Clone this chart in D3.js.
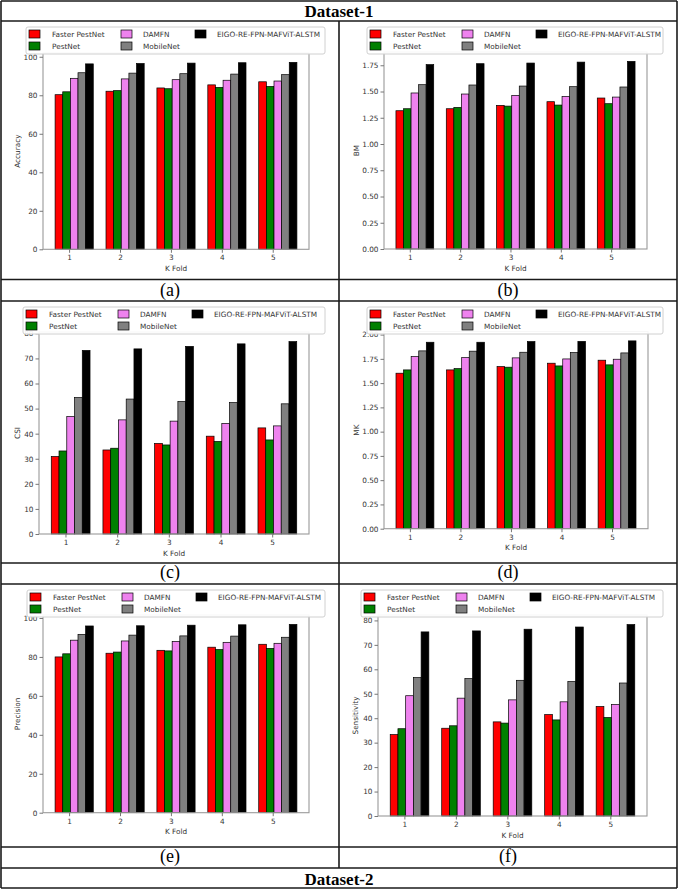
<!DOCTYPE html>
<html>
<head>
<meta charset="utf-8">
<script src="https://cdn.jsdelivr.net/npm/d3@7"></script>
<style>
body { margin: 0; background: #fff; }
svg text { font-family: "DejaVu Sans", sans-serif; }
</style>
</head>
<body>
<div id="chart"></div>
<script>
const kFolds = [1, 2, 3, 4, 5];
const models = ["Faster PestNet", "PestNet", "DAMFN", "MobileNet", "EIGO-RE-FPN-MAFViT-ALSTM"];
const modelColors = ["#ff0000", "#008000", "#ee82ee", "#808080", "#000000"];

// one row per model, one column per k fold
const accuracy = [
    [80.3, 82.1, 83.8, 85.4, 87.0],
    [81.8, 82.4, 83.4, 84.1, 84.6],
    [88.8, 88.5, 88.1, 87.8, 87.4],
    [91.7, 91.5, 91.2, 91.0, 90.7],
    [96.3, 96.5, 96.7, 96.9, 97.1]
];
const bm = [
    [1.317, 1.336, 1.368, 1.403, 1.438],
    [1.336, 1.349, 1.361, 1.371, 1.384],
    [1.486, 1.476, 1.463, 1.453, 1.447],
    [1.565, 1.562, 1.552, 1.546, 1.543],
    [1.756, 1.765, 1.771, 1.780, 1.787]
];
const csi = [
    [30.9, 33.5, 36.1, 39.0, 42.3],
    [33.1, 34.2, 35.5, 36.9, 37.5],
    [46.8, 45.5, 45.0, 44.1, 43.1],
    [54.4, 53.8, 52.8, 52.4, 51.9],
    [73.2, 73.8, 74.8, 75.8, 76.7]
];
const mk = [
    [1.602, 1.636, 1.670, 1.705, 1.736],
    [1.636, 1.649, 1.664, 1.677, 1.688],
    [1.773, 1.763, 1.760, 1.749, 1.746],
    [1.832, 1.829, 1.818, 1.815, 1.811],
    [1.921, 1.921, 1.928, 1.930, 1.935]
];
const precision = [
    [80.0, 81.9, 83.4, 85.0, 86.5],
    [81.6, 82.5, 83.1, 83.8, 84.4],
    [88.6, 88.2, 88.0, 87.5, 87.0],
    [91.6, 91.2, 90.8, 90.7, 90.1],
    [95.9, 96.0, 96.3, 96.5, 96.7]
];
const sensitivity = [
    [33.3, 35.9, 38.5, 41.5, 44.8],
    [35.7, 36.9, 38.0, 39.3, 40.3],
    [49.2, 48.2, 47.5, 46.7, 45.6],
    [56.6, 56.2, 55.5, 55.0, 54.4],
    [75.3, 75.7, 76.4, 77.3, 78.3]
];
const yTicksPercent = [0, 20, 40, 60, 80, 100];
const yTicksTens = [0, 10, 20, 30, 40, 50, 60, 70, 80];
const yTicksUnit = [0, 0.25, 0.5, 0.75, 1, 1.25, 1.5, 1.75, 2];

const W = 678, H = 890;
const fontSize = "7.3px";
const svg = d3.select("#chart").append("svg")
    .attr("width", W)
    .attr("height", H);

// table frame
const frame = svg.append("g")
    .attr("stroke", "#1a1a1a")
    .attr("stroke-width", 1.6);
[1, 21, 279.5, 301, 563, 584, 847, 868, 888].forEach(yy => {
    frame.append("line").attr("x1", 1).attr("x2", 677).attr("y1", yy).attr("y2", yy);
});
frame.append("line").attr("x1", 1).attr("x2", 1).attr("y1", 1).attr("y2", 888);
frame.append("line").attr("x1", 677).attr("x2", 677).attr("y1", 1).attr("y2", 888);
frame.append("line").attr("x1", 339).attr("x2", 339).attr("y1", 21).attr("y2", 868);

const serif = "'Liberation Serif', 'Times New Roman', serif";
svg.append("text").attr("x", 339).attr("y", 16.5).attr("text-anchor", "middle")
    .style("font-family", serif).style("font-weight", "bold").style("font-size", "17px")
    .text("Dataset-1");
svg.append("text").attr("x", 339).attr("y", 884.5).attr("text-anchor", "middle")
    .style("font-family", serif).style("font-weight", "bold").style("font-size", "17px")
    .text("Dataset-2");

const panels = [
    {tag: "(a)", values: accuracy, ylabel: "Accuracy", ticks: yTicksPercent, fmt: d3.format("d"),
     left: 43, right: 309, top: 53, bottom: 249.3, ylabelX: 17, legend: [26, 27, 299], tagX: 170, tagY: 295.5},
    {tag: "(b)", values: bm, ylabel: "BM", ticks: yTicksUnit, fmt: d3.format(".2f"),
     left: 384, right: 647, top: 52, bottom: 249, ylabelX: 356, legend: [367, 27, 296], tagX: 508, tagY: 295.5},
    {tag: "(c)", values: csi, ylabel: "CSI", ticks: yTicksTens, fmt: d3.format("d"),
     left: 39, right: 309, top: 332, bottom: 534, ylabelX: 17, legend: [23, 307, 302], tagX: 170, tagY: 578},
    {tag: "(d)", values: mk, ylabel: "MK", ticks: yTicksUnit, fmt: d3.format(".2f"),
     left: 384, right: 648, top: 331.5, bottom: 528.7, ylabelX: 356, legend: [367, 307, 296], tagX: 508, tagY: 578},
    {tag: "(e)", values: precision, ylabel: "Precision", ticks: yTicksPercent, fmt: d3.format("d"),
     left: 43, right: 309, top: 615, bottom: 812.7, ylabelX: 17, legend: [27, 590, 298], tagX: 170, tagY: 862},
    {tag: "(f)", values: sensitivity, ylabel: "Sensitivity", ticks: yTicksTens, fmt: d3.format("d"),
     left: 378, right: 647, top: 615, bottom: 816, ylabelX: 355, legend: [361, 590, 302], tagX: 508, tagY: 862}
];

const barWidth = 0.15;
const firstOffset = -0.275;

function drawPanel(p) {
    const g = svg.append("g");
    const xMin = 1 + firstOffset, xMax = 5 + firstOffset + 5 * barWidth;
    const pad = (xMax - xMin) * 0.05;
    const x = d3.scaleLinear().domain([xMin - pad, xMax + pad]).range([p.left, p.right]);
    const yMax = d3.max(p.values.flat()) * 1.05;
    const y = d3.scaleLinear().domain([0, yMax]).range([p.bottom, p.top]);

    // bars
    p.values.forEach((series, m) => {
        g.append("g").selectAll("rect")
            .data(series)
            .join("rect")
            .attr("x", (d, i) => x(kFolds[i] + firstOffset + m * barWidth))
            .attr("width", x(barWidth) - x(0))
            .attr("y", d => y(d))
            .attr("height", d => y(0) - y(d))
            .attr("fill", modelColors[m])
            .attr("stroke", "#000")
            .attr("stroke-width", 0.7);
    });

    // spines
    g.append("rect")
        .attr("x", p.left).attr("y", p.top)
        .attr("width", p.right - p.left).attr("height", p.bottom - p.top)
        .attr("fill", "none").attr("stroke", "#9a9a9a").attr("stroke-width", 1.1);

    const yAxis = g.append("g")
        .attr("transform", `translate(${p.left},0)`)
        .call(d3.axisLeft(y).tickValues(p.ticks.filter(t => t <= yMax)).tickFormat(p.fmt)
            .tickSize(3.5).tickPadding(2));
    const xAxis = g.append("g")
        .attr("transform", `translate(0,${p.bottom})`)
        .call(d3.axisBottom(x).tickValues(kFolds).tickFormat(d3.format("d"))
            .tickSize(3.5).tickPadding(2.5));
    [xAxis, yAxis].forEach(a => {
        a.select(".domain").remove();
        a.selectAll("line").attr("stroke", "#777");
        a.selectAll("text").attr("fill", "#333").style("font-size", fontSize);
    });

    g.append("text")
        .attr("x", (p.left + p.right) / 2).attr("y", p.bottom + 21.5)
        .attr("text-anchor", "middle").attr("fill", "#333").style("font-size", fontSize)
        .text("K Fold");
    g.append("text")
        .attr("transform", `translate(${p.ylabelX},${(p.top + p.bottom) / 2}) rotate(-90)`)
        .attr("text-anchor", "middle").attr("dy", "0.35em")
        .attr("fill", "#333").style("font-size", fontSize)
        .text(p.ylabel);

    // legend above the axes, 3 columns
    const [lx, ly, lw] = p.legend;
    const lg = g.append("g").attr("transform", `translate(${lx},${ly})`);
    lg.append("rect")
        .attr("width", lw).attr("height", 27).attr("rx", 2)
        .attr("fill", "#fff").attr("fill-opacity", 0.92)
        .attr("stroke", "#d0d0d0").attr("stroke-width", 1);
    const handleX = [3, 95, 169], textX = [26, 117, 191];
    models.forEach((name, i) => {
        const col = Math.floor(i / 2), row = i % 2;
        const cy = 7 + row * 12;
        lg.append("rect")
            .attr("x", handleX[col]).attr("y", cy - 4)
            .attr("width", 11).attr("height", 8)
            .attr("fill", modelColors[i]).attr("stroke", "#000").attr("stroke-width", 0.7);
        lg.append("text")
            .attr("x", textX[col]).attr("y", cy + 2.6)
            .attr("fill", "#333").style("font-size", fontSize)
            .text(name);
    });

    svg.append("text").attr("x", p.tagX).attr("y", p.tagY).attr("text-anchor", "middle")
        .style("font-family", serif).style("font-size", "18px")
        .text(p.tag);
}

panels.forEach(drawPanel);
</script>
</body>
</html>
